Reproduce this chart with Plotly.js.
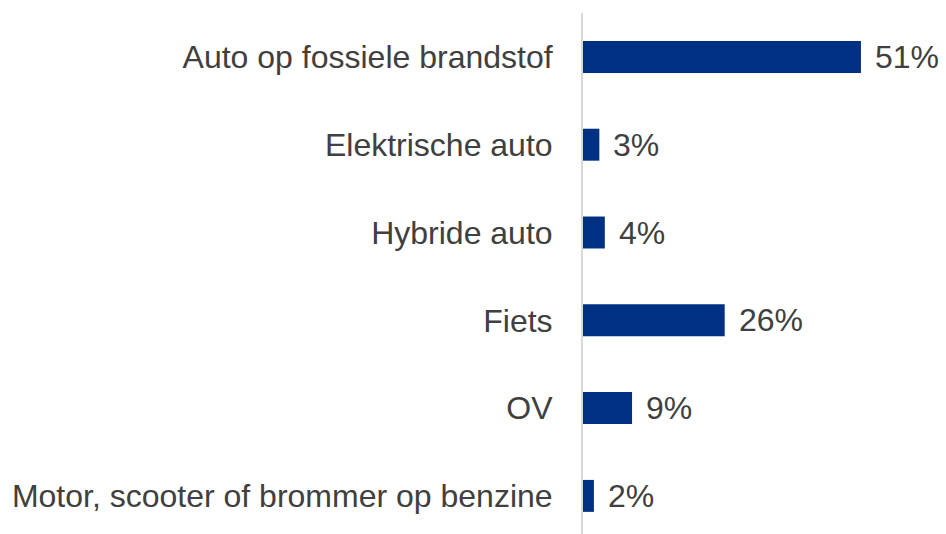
<!DOCTYPE html>
<html>
<head>
<meta charset="utf-8">
<script src="https://cdn.plot.ly/plotly-3.0.1.min.js"></script>
<style>html,body{margin:0;padding:0;background:#fff;}#chart{width:946px;height:534px;}</style>
</head>
<body>
<div id="chart"></div>
<script>
const categories = [
  "Auto op fossiele brandstof",
  "Elektrische auto",
  "Hybride auto",
  "Fiets",
  "OV",
  "Motor, scooter of brommer op benzine"
];
const values = [51, 3, 4, 26, 9, 2];
const valueLabels = values.map(v => v + "%");

const FONT = "Liberation Sans, Arial, sans-serif";
const TEXT_COLOR = "#404040";
const BAR_COLOR = "#003082";

const trace = {
  type: "bar",
  orientation: "h",
  x: values,
  y: categories,
  marker: {color: BAR_COLOR},
  hoverinfo: "none",
  cliponaxis: false
};

const annotations = categories.map((c, i) => ({
  x: values[i], y: c, xref: "x", yref: "y",
  text: valueLabels[i], showarrow: false,
  xanchor: "left", yanchor: "middle", xshift: 12,
  font: {family: FONT, size: 32, color: TEXT_COLOR}
}));

const layout = {
  width: 946, height: 534,
  margin: {l: 583, r: 36, t: 13, b: 0, pad: 0},
  paper_bgcolor: "#ffffff", plot_bgcolor: "#ffffff",
  showlegend: false,
  bargap: 0.636,
  font: {family: FONT, size: 32, color: TEXT_COLOR},
  xaxis: {
    range: [0, 60], showgrid: false, zeroline: false,
    showticklabels: false, ticks: "", showline: false, fixedrange: true
  },
  yaxis: {
    type: "category",
    range: [5.434, -0.5],
    showgrid: false, zeroline: false,
    showline: true, linecolor: "#d9d9d9", linewidth: 2,
    ticks: "", ticklabelstandoff: 22,
    tickfont: {family: FONT, size: 32, color: TEXT_COLOR},
    fixedrange: true
  },
  annotations: annotations
};

Plotly.newPlot("chart", [trace], layout, {displayModeBar: false, staticPlot: true});
</script>
</body>
</html>
